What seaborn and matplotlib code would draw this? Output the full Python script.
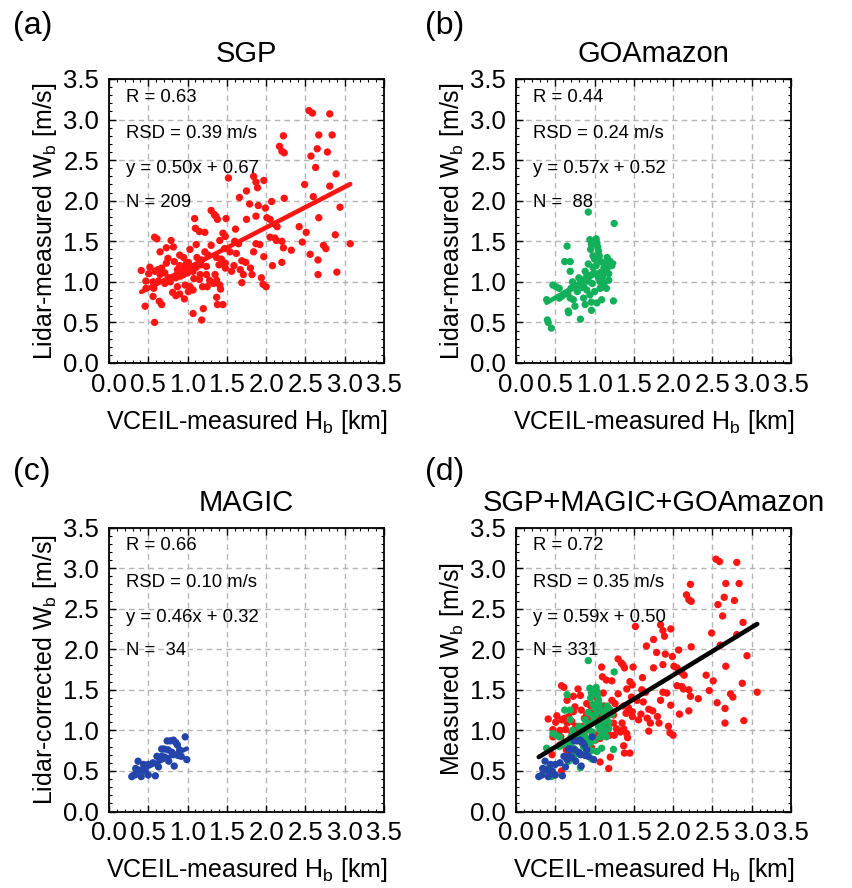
import numpy as np
import pandas as pd
import matplotlib
matplotlib.use("Agg")
import matplotlib.pyplot as plt
from matplotlib.ticker import MultipleLocator
import seaborn as sns

# ---------------- data ----------------
sgp_x = [2.545, 2.59, 2.81, 2.67, 2.84, 2.22, 2.17, 2.20, 2.23, 2.57, 2.65, 2.78, 2.63, 2.89,
         1.84, 1.87, 1.89, 1.97, 1.52, 2.49, 2.81, 1.75, 1.66, 2.23, 2.60, 2.07, 1.90, 1.99,
         1.79, 2.94, 1.30, 1.34, 1.36, 1.38, 1.49, 1.09, 2.01, 2.05, 2.67, 1.75, 1.87, 2.11,
         2.14, 2.42, 1.61, 1.10, 1.15, 1.22, 2.51, 2.88, 1.48, 2.05, 2.11, 2.13, 0.58, 0.61,
         0.79, 2.20, 1.65, 1.41, 2.32, 2.46, 1.87, 1.92, 2.73, 2.76, 3.07, 2.56, 2.22, 0.73,
         0.82, 0.90, 1.11, 1.03, 1.22, 1.26, 1.47, 1.54, 1.62, 1.84, 1.97, 2.20, 2.66, 2.08,
         0.65, 0.75, 0.83, 0.95, 1.01, 1.18, 1.37, 1.43, 1.69, 1.74, 1.59, 1.40, 1.48, 0.93,
         0.87, 1.04, 1.11, 1.17, 1.24, 0.73, 0.67, 0.52, 0.585, 0.41, 0.505, 0.65, 0.71, 0.47,
         0.91, 0.95, 1.00, 1.07, 1.16, 1.24, 1.35, 1.56, 1.67, 1.71, 1.82, 1.80, 1.48, 2.66,
         2.90, 1.94, 1.96, 2.00, 1.69, 1.28, 1.33, 1.37, 1.41, 1.08, 1.19, 1.25, 1.42, 1.03,
         0.97, 0.87, 0.78, 0.71, 0.63, 0.56, 0.47, 0.57, 0.81, 0.90, 0.85, 1.01, 1.07, 0.96,
         1.37, 0.64, 0.67, 0.56, 0.46, 1.38, 1.45, 1.07, 1.20, 1.18, 0.58,
         0.90, 0.98, 1.12, 0.76, 0.62, 1.30, 1.45, 1.60, 0.85, 1.15]
sgp_y = [3.11, 3.08, 3.07, 2.81, 2.81, 2.80, 2.67, 2.61, 2.59, 2.55, 2.64, 2.60, 2.41, 2.33,
         2.30, 2.23, 2.16, 2.25, 2.28, 2.20, 2.18, 2.12, 2.04, 2.03, 2.05, 1.99, 1.94, 1.91,
         1.96, 1.92, 1.88, 1.83, 1.81, 1.77, 1.78, 1.78, 1.79, 1.77, 1.79, 1.77, 1.81, 1.71,
         1.68, 1.68, 1.65, 1.66, 1.62, 1.61, 1.61, 1.58, 1.56, 1.55, 1.54, 1.51, 1.55, 1.53,
         1.51, 1.50, 1.47, 1.51, 1.39, 1.49, 1.47, 1.46, 1.45, 1.41, 1.47, 1.34, 1.42, 1.42,
         1.43, 1.33, 1.46, 1.40, 1.37, 1.33, 1.41, 1.37, 1.35, 1.37, 1.31, 1.24, 1.27, 1.20,
         1.37, 1.29, 1.25, 1.30, 1.24, 1.27, 1.30, 1.28, 1.26, 1.24, 1.20, 1.21, 1.23, 1.17,
         1.15, 1.19, 1.18, 1.21, 1.19, 1.23, 1.17, 1.18, 1.13, 1.14, 1.10, 1.09, 1.11, 1.01,
         1.07, 1.09, 1.11, 1.13, 1.09, 1.09, 1.09, 1.13, 1.15, 1.09, 1.09, 1.17, 1.17, 1.09,
         1.12, 1.05, 0.97, 0.94, 0.99, 1.02, 0.98, 1.02, 0.96, 1.04, 0.94, 0.94, 0.91, 0.94,
         0.96, 0.94, 1.00, 0.98, 1.01, 1.00, 0.92, 0.92, 0.87, 0.85, 0.83, 0.88, 0.90, 0.79,
         0.81, 0.76, 0.72, 0.82, 0.70, 0.72, 0.72, 0.61, 0.67, 0.53, 0.50,
         1.20, 1.22, 1.30, 1.05, 1.15, 1.45, 1.60, 1.50, 1.05, 1.03]

goa_x = [1.25, 0.92, 0.65, 0.94, 0.96, 0.95, 0.98, 1.00, 1.02, 1.03, 1.04, 1.05, 1.06,
         0.62, 0.69, 0.69, 1.14, 1.16, 1.12, 1.18, 1.10, 1.07, 0.98, 0.99, 0.94, 0.88,
         0.90, 0.92, 0.80, 0.82, 0.77, 0.84, 0.72, 0.66, 0.69, 0.47, 0.51, 0.55, 0.39,
         0.58, 0.73, 0.86, 0.94, 1.00, 1.07, 0.90, 0.96, 1.03, 1.09, 1.24, 0.665, 0.67,
         0.82, 0.96, 0.40, 0.41, 0.45, 1.16, 1.20, 1.22, 1.12, 1.08, 1.02, 0.97, 0.85,
         0.78, 0.62, 0.55, 0.75, 0.88, 1.05, 1.12, 1.15, 1.18, 0.92, 0.86, 0.70]
goa_y = [1.72, 1.86, 1.44, 1.52, 1.46, 1.40, 1.32, 1.28, 1.53, 1.48, 1.43, 1.38, 1.32,
         1.25, 1.25, 1.13, 1.23, 1.17, 1.11, 1.10, 1.06, 1.00, 1.18, 1.11, 1.08, 1.13,
         1.07, 1.01, 1.05, 0.99, 0.95, 0.93, 1.00, 0.86, 0.80, 0.96, 0.94, 0.92, 0.78,
         0.82, 0.78, 0.80, 0.84, 0.88, 0.92, 0.90, 0.75, 0.74, 0.78, 0.765, 0.64, 0.62,
         0.54, 0.65, 0.53, 0.50, 0.43, 1.30, 1.25, 1.20, 1.18, 1.25, 1.20, 0.98, 1.02,
         0.88, 0.85, 0.80, 0.70, 0.72, 1.05, 0.98, 0.92, 1.02, 1.22, 0.95, 0.92]

mag_x = [0.97, 0.74, 0.78, 0.82, 0.85, 0.87, 0.90, 0.67, 0.70, 0.75, 0.80, 0.82, 0.88,
         0.92, 0.99, 0.61, 0.67, 0.71, 0.37, 0.44, 0.50, 0.56, 0.34, 0.39, 0.46, 0.29,
         0.33, 0.41, 0.50, 0.59, 0.65, 0.63, 0.76, 0.83]
mag_y = [0.92, 0.87, 0.87, 0.88, 0.85, 0.82, 0.76, 0.77, 0.77, 0.76, 0.73, 0.70, 0.69,
         0.68, 0.64, 0.68, 0.68, 0.67, 0.62, 0.58, 0.58, 0.60, 0.53, 0.51, 0.50, 0.43,
         0.45, 0.43, 0.45, 0.44, 0.64, 0.55, 0.62, 0.56]

# regression lines (slope, intercept) as printed in the panels
fit_slope = {"SGP": 0.50, "GOAmazon": 0.57, "MAGIC": 0.46, "ALL": 0.59}
fit_icept = {"SGP": 0.67, "GOAmazon": 0.52, "MAGIC": 0.32, "ALL": 0.50}

stats_text = {
    "SGP": ["R = 0.63", "RSD = 0.39 m/s", "y = 0.50x + 0.67", "N = 209"],
    "GOAmazon": ["R = 0.44", "RSD = 0.24 m/s", "y = 0.57x + 0.52", "N =  88"],
    "MAGIC": ["R = 0.66", "RSD = 0.10 m/s", "y = 0.46x + 0.32", "N =  34"],
    "ALL": ["R = 0.72", "RSD = 0.35 m/s", "y = 0.59x + 0.50", "N = 331"],
}
tick_vals = [0.0, 0.5, 1.0, 1.5, 2.0, 2.5, 3.0, 3.5]
tick_labels = ["0.0", "0.5", "1.0", "1.5", "2.0", "2.5", "3.0", "3.5"]

RED, GREEN, BLUE = "#FF1414", "#12B05A", "#2344A8"

# ---------------- style ----------------
sns.set_style("white")
plt.rcParams["font.family"] = ["Liberation Sans", "DejaVu Sans"]
plt.rcParams["mathtext.fontset"] = "custom"
plt.rcParams["mathtext.rm"] = "Liberation Sans"
plt.rcParams["mathtext.it"] = "Liberation Sans"
for k in ["text.color", "axes.labelcolor", "xtick.color", "ytick.color"]:
    plt.rcParams[k] = "black"

fig = plt.figure(figsize=(8.53, 8.88), dpi=100)
W, H = 853, 888
aw, ah = 275 / W, 284 / H
pos = {
    "a": [109 / W, 1 - 363 / H, aw, ah],
    "b": [516 / W, 1 - 363 / H, aw, ah],
    "c": [109 / W, 1 - 811.5 / H, aw, ah],
    "d": [516 / W, 1 - 811.5 / H, aw, ah],
}


def style_axes(ax, title, ylabel, key):
    ax.set_xlim(0, 3.5)
    ax.set_ylim(0, 3.5)
    ax.set_xticks(tick_vals)
    ax.set_xticklabels(tick_labels)
    ax.set_yticks(tick_vals)
    ax.set_yticklabels(tick_labels)
    ax.xaxis.set_minor_locator(MultipleLocator(0.1))
    ax.yaxis.set_minor_locator(MultipleLocator(0.1))
    ax.tick_params(which="both", direction="in", top=True, right=True,
                   bottom=True, left=True, color="black")
    ax.tick_params(which="major", length=5, width=1.0, labelsize=18.5, pad=7,
                   labelcolor="black")
    ax.tick_params(which="minor", length=2.5, width=0.8)
    for s in ax.spines.values():
        s.set_color("black")
        s.set_linewidth(1.3)
    ax.grid(True, which="major", color="#B5B5B5", linestyle=(0, (4, 3)), linewidth=1.0)
    ax.set_axisbelow(True)
    ax.set_title(title, fontsize=21, pad=12, color="black")
    ax.set_xlabel(r"VCEIL-measured H$_\mathrm{b}$ [km]", fontsize=18, labelpad=8,
                  color="black")
    ax.set_ylabel(ylabel, fontsize=18, labelpad=3, color="black")
    ys = [0.936, 0.807, 0.684, 0.566]
    for t, yy in zip(stats_text[key], ys):
        ax.text(0.062, yy, t, transform=ax.transAxes, fontsize=13.3,
                ha="left", va="center", color="black", zorder=5)


def fit_line(ax, xs, key, color, lw):
    x0, x1 = min(xs), max(xs)
    lx = np.array([x0, x1])
    ly = fit_slope[key] * lx + fit_icept[key]
    sns.lineplot(x=lx, y=ly, ax=ax, color=color, linewidth=lw, zorder=6)


def scatter(ax, xs, ys, color):
    sns.scatterplot(x=xs, y=ys, ax=ax, color=color, s=28, edgecolor="none",
                    linewidth=0, zorder=3)


# (a) SGP
ax = fig.add_axes(pos["a"])
scatter(ax, sgp_x, sgp_y, RED)
fit_line(ax, sgp_x, "SGP", RED, 3.3)
style_axes(ax, "SGP", r"Lidar-measured W$_\mathrm{b}$ [m/s]", "SGP")

# (b) GOAmazon
ax = fig.add_axes(pos["b"])
scatter(ax, goa_x, goa_y, GREEN)
fit_line(ax, goa_x, "GOAmazon", GREEN, 3.3)
style_axes(ax, "GOAmazon", r"Lidar-measured W$_\mathrm{b}$ [m/s]", "GOAmazon")

# (c) MAGIC
ax = fig.add_axes(pos["c"])
scatter(ax, mag_x, mag_y, BLUE)
fit_line(ax, mag_x, "MAGIC", BLUE, 3.3)
style_axes(ax, "MAGIC", r"Lidar-corrected W$_\mathrm{b}$ [m/s]", "MAGIC")

# (d) all
ax = fig.add_axes(pos["d"])
scatter(ax, sgp_x, sgp_y, RED)
scatter(ax, goa_x, goa_y, GREEN)
scatter(ax, mag_x, mag_y, BLUE)
fit_line(ax, sgp_x + goa_x + mag_x, "ALL", "black", 3.3)
style_axes(ax, "SGP+MAGIC+GOAmazon", r"Measured W$_\mathrm{b}$ [m/s]", "ALL")

# panel letters
for lab, (px, py) in {"(a)": (13, 26), "(b)": (425, 26),
                      "(c)": (13, 472), "(d)": (425, 472)}.items():
    fig.text(px / W, 1 - py / H, lab, fontsize=23, ha="left", va="center",
             color="black")

fig.savefig("out.png", dpi=100)
